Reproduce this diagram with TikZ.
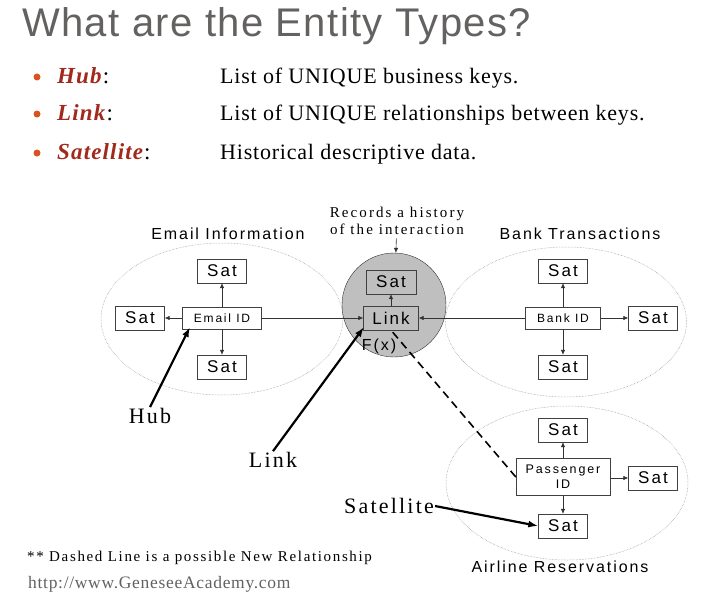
\documentclass[tikz,border=0pt]{standalone}
\usepackage{fontspec}
\setmainfont{Liberation Serif}
\setsansfont{Liberation Sans}
\newfontfamily\titlesans[LetterSpace=3.4]{Liberation Sans}
\newfontfamily\widesans[LetterSpace=12]{Liberation Sans}
\newfontfamily\boxsans[LetterSpace=15]{Liberation Sans}
\newfontfamily\wideserif[LetterSpace=10]{Liberation Serif}
\newfontfamily\recserif[LetterSpace=14]{Liberation Serif}
\newfontfamily\bulletserif[LetterSpace=3.6]{Liberation Serif}
\newfontfamily\kindserif[LetterSpace=5]{Liberation Serif}
\newfontfamily\noteserif[LetterSpace=11]{Liberation Serif}
\newfontfamily\urlserif[LetterSpace=4]{Liberation Serif}
\usepackage{tikz}
\usetikzlibrary{arrows.meta,positioning,shapes.geometric}
\definecolor{gaGray}{RGB}{100,98,96}
\definecolor{gaOrange}{RGB}{214,84,34}
\definecolor{gaRed}{RGB}{160,42,28}
\definecolor{gaFill}{RGB}{191,191,191}

\begin{document}
\begin{tikzpicture}[x=1pt, y=-1pt,
  sat/.style={draw=black!75, fill=white, font=\widesans\fontsize{17}{17}\selectfont, minimum width=49pt, minimum height=24pt, inner sep=0pt},
  hubbox/.style={draw=black!75, fill=white, font=\boxsans\fontsize{12}{13}\selectfont, minimum height=22pt, inner sep=0pt, align=center},
  grp/.style={ellipse, draw=black!45, densely dotted, line width=0.5pt, inner sep=0pt},
  grptitle/.style={font=\widesans\fontsize{16}{16}\selectfont},
  arr/.style={-{Latex[length=5pt,width=4.5pt]}, black!80, line width=0.6pt},
  pointer/.style={-{Latex[length=10pt,width=7pt]}, line width=2.2pt},
  callout/.style={font=\wideserif\fontsize{22}{22}\selectfont, inner sep=1pt}
]
\useasboundingbox (0,0) rectangle (704,602);

\node[anchor=base west, text=gaGray, font=\titlesans\fontsize{40}{42}\selectfont, inner sep=0pt] (title) at (22,37) {What are the Entity Types?};
\foreach \y/\kind/\desc [count=\i] in {83/Hub/List of UNIQUE business keys., 120/Link/List of UNIQUE relationships between keys., 159/Satellite/Historical descriptive data.}{
  \node[circle, fill=gaOrange, inner sep=0pt, minimum size=7pt] (dot\i) at (37,\y-6) {};
  \node[anchor=base west, inner sep=0pt, font=\kindserif\fontsize{23}{24}\selectfont] (kind\i) at (57,\y) {\textcolor{gaRed}{\textbf{\textit{\kind}}}:};
  \node[anchor=base west, inner sep=0pt, font=\bulletserif\fontsize{22}{24}\selectfont] (desc\i) at (220,\y) {\desc};
}

\node[grp, minimum width=242pt, minimum height=152pt] (emailgrp) at (222,319) {};
\node[grp, minimum width=241pt, minimum height=150pt] (bankgrp) at (566,322) {};
\node[grp, minimum width=242pt, minimum height=154pt] (airgrp) at (567,483) {};
\node[circle, draw=black!80, fill=gaFill, minimum size=104pt, inner sep=0pt] (linkgrp) at (394,305) {};

\node[grptitle] (emailtitle) at (228,234) {Email Information};
\node[grptitle] (banktitle) at (580,234) {Bank Transactions};
\node[grptitle] (airtitle) at (560,567) {Airline Reservations};
\node[align=center, font=\recserif\fontsize{15}{17}\selectfont] (records) at (397,221) {Records a history\\of the interaction};

\node[hubbox, minimum width=79pt] (emailid) at (222,318) {Email ID};
\node[sat] (esattop) at (222,271) {Sat};
\node[sat] (esatleft) at (140,318) {Sat};
\node[sat] (esatbot) at (222,367) {Sat};

\node[sat, fill=gaFill, minimum width=55pt] (linkbox) at (391,318) {Link};
\node[sat, fill=gaFill, minimum width=50pt] (linksat) at (391,282) {Sat};
\node[font=\widesans\fontsize{16}{16}\selectfont, inner sep=0pt] (fx) at (379,346) {F(x)};

\node[hubbox, minimum width=75pt] (bankid) at (563,318) {Bank ID};
\node[sat] (bsattop) at (563,271) {Sat};
\node[sat] (bsatright) at (653,318) {Sat};
\node[sat] (bsatbot) at (563,367) {Sat};

\node[hubbox, minimum width=94pt, minimum height=37pt, font=\boxsans\fontsize{12.5}{15}\selectfont] (pid) at (563,477) {Passenger\\ID};
\node[sat] (asattop) at (563,430) {Sat};
\node[sat] (asatright) at (653,478) {Sat};
\node[sat] (asatbot) at (563,526) {Sat};

\draw[arr] (emailid) -- (esattop);
\draw[arr] (emailid) -- (esatleft);
\draw[arr] (emailid) -- (esatbot);
\draw[arr] (emailid) -- (linkbox);
\draw[arr] (bankid) -- (bsattop);
\draw[arr] (bankid) -- (bsatright);
\draw[arr] (bankid) -- (bsatbot);
\draw[arr] (bankid) -- (linkbox);
\draw[arr] (linkbox) -- (linksat);
\draw[arr] (pid) -- (asattop);
\draw[arr] (pid.east |- asatright) -- (asatright);
\draw[arr] (pid) -- (asatbot);
\draw[arr] (records) -- (linkgrp);
\draw[dashed, line width=1.6pt, dash pattern=on 8pt off 5pt] (pid.west) -- (linkbox.south);

\node[callout] (hubtxt) at (150,416) {Hub};
\node[callout] (linktxt) at (273,460) {Link};
\node[callout] (sattxt) at (389,506) {Satellite};
\coordinate (hubtip) at (190,327);
\coordinate (linktip) at (364,327);
\draw[pointer] (hubtxt.north) -- (hubtip);
\draw[pointer] (linktxt.north) -- (linktip);
\draw[pointer] (sattxt.east) -- (asatbot.west);

\node[anchor=base west, inner sep=0pt, font=\noteserif\fontsize{15}{16}\selectfont] (note) at (27,561) {** Dashed Line is a possible New Relationship};
\node[anchor=base west, inner sep=0pt, text=gaGray, font=\urlserif\fontsize{17.5}{19}\selectfont] (url) at (28,588) {http://www.GeneseeAcademy.com};
\end{tikzpicture}
\end{document}
